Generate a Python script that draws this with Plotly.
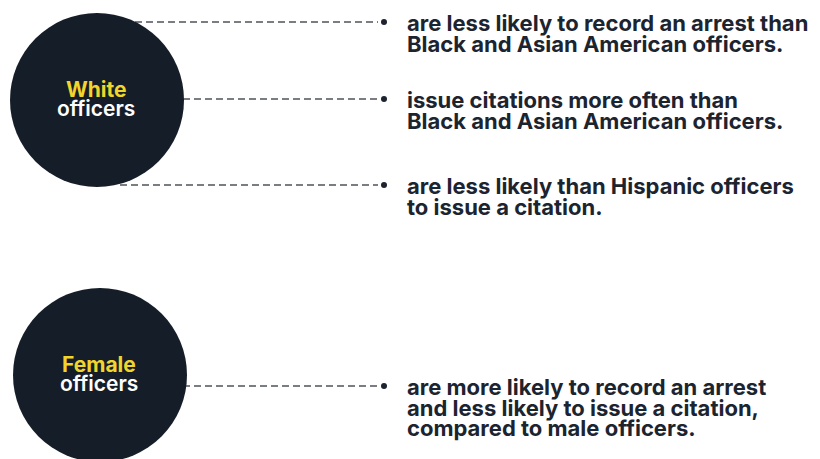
""" Infographic: what the data says about officer groups """
import plotly.graph_objects as go

# data
groups = ["White", "Female"]
group_suffix = ["officers", "officers"]

white_findings = [
    "are less likely to record an arrest than<br>Black and Asian American officers.",
    "issue citations more often than<br>Black and Asian American officers.",
    "are less likely than Hispanic officers<br>to issue a citation.",
]
female_findings = [
    "are more likely to record an arrest<br>and less likely to issue a citation,<br>compared to male officers.",
]
findings = [white_findings, female_findings]

# layout (pixel space, y going down)
W, H = 820, 459
NAVY = "#151e28"
YELLOW = "#f2d52c"
TEXT = "#1c2430"
DASH = "#4f545b"
FONT = "Inter"

circle_center = [(97, 100), (100, 375)]
circle_r = 87
bullet_x = 384
text_x = 405
line_gap = 20.5
bullet_y = [[22, 99, 185], [386]]
line_start = [[135, 150, 120], [150]]

fig = go.Figure()
shapes = []
annotations = []

for g, (cx, cy) in enumerate(circle_center):
    for k, txt in enumerate(findings[g]):
        by = bullet_y[g][k]
        fig.add_trace(go.Scatter(
            x=[line_start[g][k], bullet_x - 6], y=[by, by],
            mode="lines",
            line=dict(color=DASH, width=1.4, dash="7px,4px"),
            hoverinfo="skip", showlegend=False))
        fig.add_trace(go.Scatter(
            x=[bullet_x], y=[by], mode="markers",
            marker=dict(color=TEXT, size=6),
            hoverinfo="skip", showlegend=False))
        for i, line in enumerate(txt.split("<br>")):
            annotations.append(dict(
                x=text_x, y=by + i * line_gap + 1, xref="x", yref="y",
                text=line, showarrow=False,
                xanchor="left", yanchor="middle",
                font=dict(family=FONT, size=22, color=TEXT, weight=700)))

    shapes.append(dict(
        type="circle", xref="x", yref="y",
        x0=cx - circle_r, x1=cx + circle_r,
        y0=cy - circle_r, y1=cy + circle_r,
        fillcolor=NAVY, line=dict(width=0), layer="above"))
    annotations.append(dict(
        x=cx - 1, y=cy - 11, xref="x", yref="y", text=groups[g],
        showarrow=False, xanchor="center", yanchor="middle",
        font=dict(family=FONT, size=21, color=YELLOW, weight=700)))
    annotations.append(dict(
        x=cx - 1, y=cy + 8, xref="x", yref="y", text=group_suffix[g],
        showarrow=False, xanchor="center", yanchor="middle",
        font=dict(family=FONT, size=21, color="white", weight=600)))

fig.update_layout(
    width=W, height=H,
    margin=dict(l=0, r=0, t=0, b=0),
    paper_bgcolor="white", plot_bgcolor="white",
    shapes=shapes, annotations=annotations,
    showlegend=False,
)
fig.update_xaxes(range=[0, W], visible=False, fixedrange=True)
fig.update_yaxes(range=[H, 0], visible=False, fixedrange=True)

fig.write_html("out.html", config={"displayModeBar": False},
               post_script="document.body.style.margin='0';")
